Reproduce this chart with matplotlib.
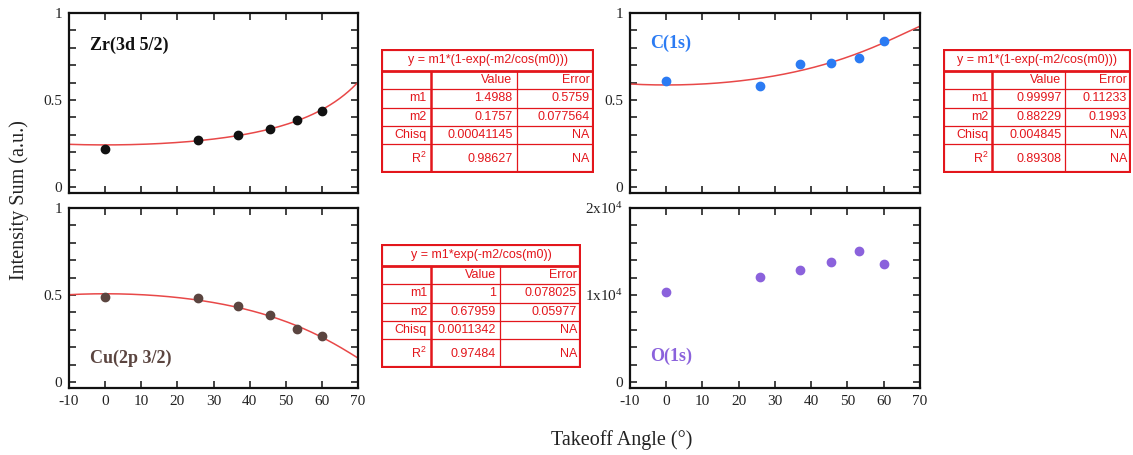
import numpy as np
import matplotlib
matplotlib.use("Agg")
import matplotlib.pyplot as plt
from matplotlib.ticker import MultipleLocator, FixedLocator, FixedFormatter

plt.rcParams['font.family'] = ['Liberation Serif', 'DejaVu Serif']
plt.rcParams['mathtext.default'] = 'regular'
plt.rcParams['axes.unicode_minus'] = False

# ========================= data ==============================================

angles = [0, 25.84, 36.87, 45.57, 53.13, 60]

zr_sum = [0.220, 0.268, 0.299, 0.334, 0.382, 0.436]
cu_sum = [0.490, 0.485, 0.437, 0.384, 0.302, 0.265]
c_sum = [0.608, 0.579, 0.704, 0.712, 0.744, 0.840]
o_sum = [10380, 12020, 12860, 13780, 15110, 13550]

# fit results (value, error)
zr_fit = {"m1": (1.4988, 0.5759), "m2": (0.1757, 0.077564), "chisq": 0.00041145, "r2": 0.98627}
cu_fit = {"m1": (1, 0.078025), "m2": (0.67959, 0.05977), "chisq": 0.0011342, "r2": 0.97484}
c_fit = {"m1": (0.99997, 0.11233), "m2": (0.88229, 0.1993), "chisq": 0.004845, "r2": 0.89308}

grow_eq = "y = m1*(1-exp(-m2/cos(m0)))"
decay_eq = "y = m1*exp(-m2/cos(m0))"

red_line = '#e84848'
red_table = '#e3161c'

# ========================= helpers ===========================================

def grow(theta, m1, m2):
    return m1 * (1 - np.exp(-m2 / np.cos(np.radians(theta))))

def decay(theta, m1, m2):
    return m1 * np.exp(-m2 / np.cos(np.radians(theta)))

def style_axes(ax, minor, show_x):
    ax.set_xlim(-10, 70)
    ax.xaxis.set_major_locator(MultipleLocator(10))
    ax.yaxis.set_minor_locator(MultipleLocator(minor))
    ax.tick_params(which='both', direction='in', top=True, right=True,
                   width=1.2, labelsize=11, colors='#222222', pad=5)
    ax.tick_params(which='both', length=5)
    if not show_x:
        ax.tick_params(axis='x', labelbottom=False)
    for sp in ax.spines.values():
        sp.set_linewidth(1.6)
        sp.set_color('#111111')

def fit_table(fig, bounds, cols, eq, fit):
    # bounds in pixels: left, top, right, bottom
    W, H = fig.bbox.width, fig.bbox.height
    l, t, r, b = bounds
    tab = fig.add_axes([l / W, 1 - b / H, (r - l) / W, (b - t) / H])
    tab.set_xlim(0, 1)
    tab.set_ylim(1, 0)
    tab.axis('off')

    rows = [0, 0.178, 0.323, 0.472, 0.623, 0.768, 1]
    c1, c2 = cols
    kw = dict(color=red_table, solid_capstyle='butt')
    for k, yy in enumerate(rows[1:-1]):
        tab.plot([0, 1], [yy, yy], lw=2.0 if k == 0 else 0.9, **kw)
    tab.plot([c1, c1], [rows[1], 1], lw=1.8, **kw)
    tab.plot([c2, c2], [rows[1], 1], lw=0.9, **kw)
    tab.add_patch(plt.Rectangle((0, 0), 1, 1, fill=False, lw=3.0, ec=red_table))

    font = dict(family=['Liberation Sans', 'DejaVu Sans'], size=9, color=red_table)
    tab.text(0.5, rows[1] / 2, eq, ha='center', va='center', **font)

    cells = [
        ["", "Value", "Error"],
        ["m1", "{0:g}".format(fit["m1"][0]), "{0:g}".format(fit["m1"][1])],
        ["m2", "{0:g}".format(fit["m2"][0]), "{0:g}".format(fit["m2"][1])],
        ["Chisq", "{0:.8g}".format(fit["chisq"]), "NA"],
        ["R$^{2}$", "{0:g}".format(fit["r2"]), "NA"],
    ]
    rights = [c1, c2, 1]
    pad = 0.02
    for i, row in enumerate(cells):
        yc = (rows[i + 1] + rows[i + 2]) / 2
        for j, txt in enumerate(row):
            tab.text(rights[j] - pad, yc, txt, ha='right', va='center', **font)

# ========================= plot ==============================================

fig = plt.figure(figsize=(11.33, 4.55), dpi=100)
W, H = 1133, 455

def add_ax(left, top, right, bottom):
    return fig.add_axes([left / W, 1 - bottom / H, (right - left) / W, (bottom - top) / H])

ax_zr = add_ax(69, 13, 358, 193)
ax_cu = add_ax(69, 208, 358, 388)
ax_c = add_ax(630, 13, 920, 193)
ax_o = add_ax(630, 208, 920, 388)

theta = np.linspace(-10, 70, 300)

# Zr
ax_zr.plot(theta, grow(theta, zr_fit["m1"][0], zr_fit["m2"][0]), color=red_line, lw=1.1)
ax_zr.plot(angles, zr_sum, 'o', color='#111111', ms=6)
ax_zr.text(0.073, 0.82, "Zr(3d 5/2)", transform=ax_zr.transAxes, fontsize=13,
           fontweight='bold', color='#111111', va='center')

# Cu
ax_cu.plot(theta, decay(theta, cu_fit["m1"][0], cu_fit["m2"][0]), color=red_line, lw=1.1)
ax_cu.plot(angles, cu_sum, 'o', color='#5b4540', ms=6)
ax_cu.text(0.073, 0.167, "Cu(2p 3/2)", transform=ax_cu.transAxes, fontsize=13,
           fontweight='bold', color='#5b4540', va='center')

# C
ax_c.plot(theta, grow(theta, c_fit["m1"][0], c_fit["m2"][0]), color=red_line, lw=1.1)
ax_c.plot(angles, c_sum, 'o', color='#2b7bf3', ms=6)
ax_c.text(0.069, 0.83, "C(1s)", transform=ax_c.transAxes, fontsize=13,
          fontweight='bold', color='#2b7bf3', va='center')

# O
ax_o.plot(angles, o_sum, 'o', color='#8b62dc', ms=6)
ax_o.text(0.069, 0.178, "O(1s)", transform=ax_o.transAxes, fontsize=13,
          fontweight='bold', color='#8b62dc', va='center')

for ax, show_x in [(ax_zr, False), (ax_cu, True), (ax_c, False)]:
    style_axes(ax, 0.1, show_x)
    ax.set_ylim(-0.035, 1.0)
    ax.yaxis.set_major_locator(FixedLocator([0, 0.5, 1]))
    ax.yaxis.set_major_formatter(FixedFormatter(["0", "0.5", "1"]))

style_axes(ax_o, 2000, True)
ax_o.set_ylim(-700, 2e4)
ax_o.yaxis.set_major_locator(FixedLocator([0, 1e4, 2e4]))
ax_o.yaxis.set_major_formatter(FixedFormatter(["0", "1x10$^{4}$", "2x10$^{4}$"]))

# fit tables
fit_table(fig, (381, 49, 594, 173), (0.235, 0.637), grow_eq, zr_fit)
fit_table(fig, (381, 244, 581, 368), (0.25, 0.596), decay_eq, cu_fit)
fit_table(fig, (943, 49, 1131, 173), (0.263, 0.65), grow_eq, c_fit)

# labels
fig.text(0.017, 1 - 200 / H, "Intensity Sum (a.u.)", rotation=90, ha='center',
         va='center', fontsize=14.5, color='#222222')
fig.text(622 / W, 1 - 440 / H, "Takeoff Angle (\u00b0)", ha='center', va='center',
         fontsize=14.5, color='#222222')

fig.savefig("out.png", dpi=100)
